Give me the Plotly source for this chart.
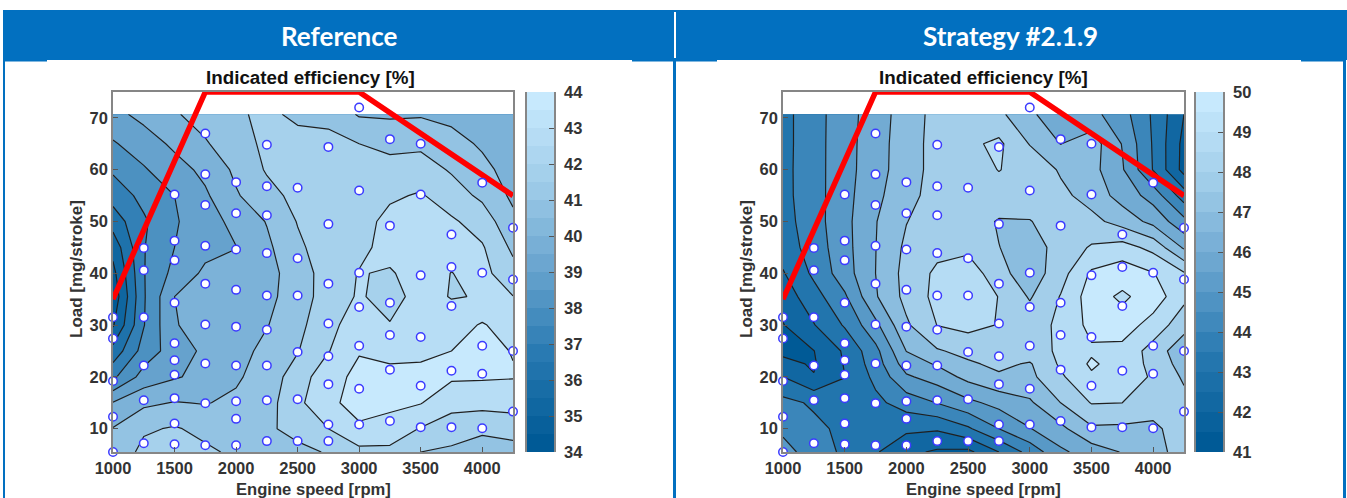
import numpy as np
import plotly.graph_objects as go

W, H = 1347, 498

speed = [1000, 1250, 1500, 1750, 2000, 2250, 2500, 2750, 3000, 3250, 3500, 3750, 4000, 4250]
ref_load = [5.5, 10, 15, 20, 25, 30, 35.5, 40, 45, 50, 55, 60, 65, 70.7]
# Reference panel: one list per engine speed, bottom to top
ref_by_speed = [
    [40.2, 40.05, 39.05, 36.8, 35.35, 33.9, 33.3, 33.7, 34.35, 35.45, 36.4, 37.15, 37.9, 38.7],
    [41.3, 40.85, 39.8, 38.4, 37.4, 36.95, 36.9, 36.95, 36.95, 36.85, 37.3, 37.9, 38.5, 39.3],
    [41.7, 41.1, 40.05, 38.9, 38.5, 38.95, 39.0, 38.3, 38.0, 37.9, 38.0, 38.6, 39.2, 39.9],
    [41.2, 40.7, 39.95, 39.3, 39.2, 39.3, 39.4, 39.2, 38.7, 38.55, 38.85, 39.25, 39.9, 40.4],
    [40.8, 40.6, 40.2, 39.85, 39.6, 39.5, 39.5, 39.3, 38.98, 39.3, 39.9, 40.2, 40.6, 40.9],
    [40.7, 40.75, 40.6, 40.5, 40.3, 39.95, 39.75, 39.65, 39.8, 40.05, 40.65, 41.1, 41.2, 41.15],
    [40.6, 41.5, 41.75, 41.45, 40.95, 40.7, 40.47, 40.5, 40.8, 41.05, 41.3, 41.45, 41.25, 40.85],
    [41.12, 42.0, 42.85, 42.7, 41.95, 41.75, 41.5, 41.45, 41.55, 41.7, 41.7, 41.65, 41.3, 40.7],
    [41.7, 42.9, 43.25, 43.2, 42.95, 42.45, 42.1, 42.05, 41.75, 41.6, 41.5, 41.25, 41.0, 39.9],
    [41.8, 42.5, 43.3, 43.15, 42.85, 42.05, 41.65, 41.9, 42.35, 42.3, 41.85, 41.35, 40.75, 39.85],
    [41.0, 41.95, 43.05, 43.2, 42.85, 42.5, 42.35, 42.45, 42.55, 42.4, 42.1, 41.45, 40.8, 39.9],
    [40.8, 41.55, 42.3, 43.15, 43.0, 42.5, 41.95, 41.98, 42.3, 42.15, 41.45, 40.9, 40.4, 39.7],
    [40.5, 41.2, 42.35, 43.1, 43.2, 43.1, 42.05, 42.3, 42.1, 41.55, 40.8, 40.3, 39.85, 39.4],
    [40.6, 41.4, 42.4, 43.05, 42.97, 42.45, 42.02, 41.35, 40.8, 40.25, 39.8, 39.55, 39.4, 39.25],
]

strat_load = [5.5, 10, 15, 20, 22.5, 25, 30, 35.5, 40, 45, 50, 55, 60, 65, 70.7]
# Strategy panel: one list per load, left to right
strat_5 = [44.35, 43.55, 42.8, 42.1, 41.25, 40.85, 40.75, 42.0, 43.35, 44.8, 45.5, 46.05, 46.65, 47.4]
strat_10 = [43.8, 43.25, 42.75, 42.4, 42.2, 42.12, 42.85, 44.0, 44.95, 45.75, 46.85, 46.8, 46.75, 47.6]
strat_15 = [43.3, 42.85, 42.5, 42.75, 43.45, 44.03, 44.75, 45.33, 45.85, 47.0, 48.05, 48.0, 47.55, 47.3]
strat_20 = [42.0, 41.05, 41.98, 43.25, 44.85, 45.45, 46.3, 46.85, 46.75, 47.85, 48.85, 48.45, 47.9, 46.85]
strat_22 = [41.25, 40.9, 42.07, 43.5, 45.5, 46.1, 46.85, 47.22, 46.9, 48.15, 49.15, 48.55, 47.75, 46.55]
strat_25 = [40.8, 40.98, 42.15, 43.7, 46.02, 46.9, 47.3, 47.7, 47.6, 48.15, 48.85, 48.7, 47.6, 46.3]
strat_30 = [40.95, 41.95, 43.1, 44.75, 46.85, 48.02, 48.3, 47.95, 47.55, 48.2, 49.3, 49.5, 48.6, 47.4]
strat_35 = [41.45, 42.6, 43.85, 45.9, 47.3, 48.3, 48.7, 47.97, 46.9, 48.05, 49.5, 48.8, 49.55, 48.25]
strat_40 = [41.92, 43.2, 44.55, 46.0, 47.35, 48.2, 48.6, 47.35, 46.4, 47.6, 49.15, 49.55, 49.05, 48.1]
strat_45 = [42.45, 43.45, 44.65, 45.98, 47.2, 47.7, 47.75, 47.02, 46.5, 47.4, 48.1, 48.4, 47.7, 45.85]
strat_50 = [42.6, 43.58, 44.7, 45.95, 46.97, 47.55, 47.6, 46.9, 46.95, 47.55, 47.3, 46.6, 45.7, 44.3]
strat_55 = [42.7, 43.6, 44.65, 45.78, 46.6, 47.5, 47.7, 47.75, 47.6, 47.25, 46.6, 45.6, 44.6, 42.5]
strat_60 = [42.7, 43.62, 44.61, 45.63, 46.5, 47.4, 47.7, 48.02, 47.75, 46.88, 46.35, 45.1, 42.95, 40.65]
strat_65 = [42.68, 43.62, 44.6, 45.6, 46.5, 47.4, 47.8, 48.2, 46.95, 45.98, 46.5, 44.95, 42.9, 40.7]
strat_70 = [42.68, 43.62, 44.57, 45.53, 46.46, 47.35, 47.55, 47.25, 46.1, 45.65, 45.3, 44.4, 42.85, 41.0]
strat_rows = [strat_5, strat_10, strat_15, strat_20, strat_22, strat_25, strat_30, strat_35,
              strat_40, strat_45, strat_50, strat_55, strat_60, strat_65, strat_70]

# Measured operating points
point_speed = [1000]*5 + [1250]*6 + [1500]*10 + [1750]*9 + [2000]*9 + [2250]*9 + [2500]*6 + [2750]*8 + [3000]*7 + [3250]*6 + [3500]*6 + [3750]*5 + [4000]*5 + [4250]*4
point_load = [31.5, 27.4, 19.2, 12.3, 5.5,
              44.9, 40.6, 31.5, 22.2, 15.5, 7.2,
              55.2, 46.3, 42.5, 34.3, 26.5, 23.2, 20.4, 15.9, 11.0, 7.0,
              67.0, 59.1, 53.2, 45.3, 38.0, 30.1, 22.6, 14.9, 6.8,
              57.6, 51.6, 44.6, 36.8, 29.7, 22.2, 15.3, 11.9, 6.8,
              64.8, 56.8, 51.2, 43.9, 35.7, 29.1, 22.2, 15.5, 7.6,
              56.5, 42.9, 35.7, 24.8, 15.7, 7.6,
              64.4, 49.5, 38.0, 30.3, 24.0, 18.6, 10.8, 7.6,
              72.0, 56.0, 40.1, 33.5, 26.0, 17.7, 10.8,
              65.9, 49.2, 34.3, 28.1, 21.4, 11.5,
              65.0, 55.2, 39.6, 27.7, 18.3, 10.3,
              47.5, 41.2, 33.7, 21.2, 10.3,
              57.5, 40.1, 26.0, 20.6, 10.1,
              48.8, 38.8, 25.0, 13.3]

# Full-load limit line
limit_speed = [1000, 1750, 3000, 4250]
limit_load = [35, 75, 75, 55]

ref_ticks = [34, 35, 36, 37, 38, 39, 40, 41, 42, 43, 44]
strat_ticks = [41, 42, 43, 44, 45, 46, 47, 48, 49, 50]
speed_ticks = [1000, 1500, 2000, 2500, 3000, 3500, 4000]
load_ticks = [10, 20, 30, 40, 50, 60, 70]

ANCHORS = [(0.0, (0, 90, 150)), (0.25, (38, 120, 176)), (0.5, (102, 162, 205)),
           (0.75, (158, 203, 232)), (1.0, (199, 233, 253))]


def ramp(t):
    for (a, ca), (b, cb) in zip(ANCHORS, ANCHORS[1:]):
        if t <= b:
            f = (t - a) / (b - a)
            return "rgb(%d,%d,%d)" % tuple(round(p + f * (q - p)) for p, q in zip(ca, cb))
    return "rgb(199,233,253)"


def band_scale(n):
    return [[i / (n - 1), ramp(i / (n - 1))] for i in range(n)]


def px_x(a, b):
    return [a / W, b / W]


def px_y(a, b):
    return [1 - b / H, 1 - a / H]


fig = go.Figure()
TICK = dict(family="Liberation Sans", size=16.5, color="#333333", weight="bold")
AXLINE = dict(showline=True, linecolor="#868686", linewidth=1.5, mirror=True,
              ticks="inside", ticklen=5, tickwidth=1, tickcolor="#555555",
              showgrid=False, zeroline=False, tickfont=TICK)

panels = [
    dict(z=np.array(ref_by_speed).T.tolist(), load=ref_load, start=34, end=43, ticks=ref_ticks,
         x0=113, x1=513, cb0=527, cb1=554, n="", cbn="2", titlex=310, xtitle=313, ytitle=76),
    dict(z=strat_rows, load=strat_load, start=41, end=49, ticks=strat_ticks,
         x0=783, x1=1184, cb0=1196, cb1=1223, n="3", cbn="4", titlex=983, xtitle=983, ytitle=746),
]

ann = []
layout = {}
for p in panels:
    xa, ya = "x" + p["n"], "y" + p["n"]
    nb = p["end"] - p["start"] + 2
    fig.add_trace(go.Contour(
        x=speed, y=p["load"], z=p["z"], xaxis=xa, yaxis=ya, showscale=False,
        autocontour=False, contours=dict(start=p["start"], end=p["end"], size=1, coloring="fill"),
        colorscale=band_scale(nb), line=dict(color="#202020", width=1.2, smoothing=0),
        hoverinfo="skip"))
    fig.add_trace(go.Scatter(
        x=limit_speed, y=limit_load, xaxis=xa, yaxis=ya, mode="lines",
        line=dict(color="#ff0000", width=5.5), cliponaxis=False, showlegend=False))
    fig.add_trace(go.Scatter(
        x=point_speed, y=point_load, xaxis=xa, yaxis=ya, mode="markers", cliponaxis=False,
        marker=dict(size=8.5, color="white", line=dict(color="#3b3bff", width=1.5)), showlegend=False))

    lo, hi = p["ticks"][0], p["ticks"][-1]
    levels = [lo + 0.25 + 0.5 * i for i in range(2 * (hi - lo))]
    fig.add_trace(go.Heatmap(
        x=[0], y=levels, z=[[i / (len(levels) - 1)] for i in range(len(levels))],
        zmin=0, zmax=1, xaxis="x" + p["cbn"], yaxis="y" + p["cbn"], showscale=False,
        colorscale=[[a, "rgb(%d,%d,%d)" % c] for a, c in ANCHORS], hoverinfo="skip"))

    key = lambda s: s[0] + "axis" + s[1:]
    layout[key(xa)] = dict(domain=px_x(p["x0"], p["x1"]), range=[1000, 4250], anchor=ya,
                           tickvals=speed_ticks, **AXLINE)
    layout[key(ya)] = dict(domain=px_y(92, 452), range=[5.5, 75], anchor=xa,
                           tickvals=load_ticks, **AXLINE)
    cx, cy = "x" + p["cbn"], "y" + p["cbn"]
    layout[key(cx)] = dict(domain=px_x(p["cb0"], p["cb1"]), anchor=cy, visible=False, range=[-0.5, 0.5])
    layout[key(cy)] = dict(domain=px_y(92, 452), range=[lo, hi], anchor=cx, side="right",
                           tickvals=p["ticks"], ticklabelstandoff=5, **AXLINE)

    ann.append(dict(x=p["titlex"] / W, y=1 - 77 / H, xref="paper", yref="paper", showarrow=False,
                    text="Indicated efficiency [%]", xanchor="center", yanchor="middle",
                    font=dict(family="Liberation Sans", size=18.8, color="#111111", weight="bold")))
    ann.append(dict(x=p["xtitle"] / W, y=1 - 489 / H, xref="paper", yref="paper", showarrow=False,
                    text="Engine speed [rpm]", xanchor="center", yanchor="middle",
                    font=dict(family="Liberation Sans", size=16.6, color="#333333", weight="bold")))
    ann.append(dict(x=p["ytitle"] / W, y=1 - 269 / H, xref="paper", yref="paper", showarrow=False,
                    text="Load [mg/stroke]", textangle=-90, xanchor="center", yanchor="middle",
                    font=dict(family="Liberation Sans", size=17, color="#333333", weight="bold")))

for text, cx in (("Reference", 339), ("Strategy #2.1.9", 1010)):
    ann.append(dict(x=cx / W, y=1 - 36 / H, xref="paper", yref="paper", showarrow=False, text=text,
                    xanchor="center", yanchor="middle",
                    font=dict(family="Lato", size=26, color="white", weight="bold")))

BLUE = "#0270c0"


def rect(a, b, c, d, color):
    return dict(type="rect", xref="paper", yref="paper", x0=a / W, x1=b / W, y0=1 - d / H, y1=1 - c / H,
                fillcolor=color, line=dict(width=0), layer="below")


shapes = [rect(3, 1347, 10, 60, BLUE), rect(3, 5, 60, 498, BLUE), rect(673, 676, 60, 498, BLUE),
          rect(1343, 1346, 60, 498, BLUE), rect(674, 676, 12, 58, "white"),
          rect(3, 47, 60, 61.5, BLUE), rect(632, 676, 60, 61.5, BLUE),
          rect(676, 717, 60, 61.5, BLUE), rect(1301, 1346, 60, 61.5, BLUE)]

fig.update_layout(width=W, height=H, margin=dict(l=0, r=0, t=0, b=0, autoexpand=False), autosize=False,
                  paper_bgcolor="white", plot_bgcolor="white", showlegend=False,
                  annotations=ann, shapes=shapes, **layout)
fig.write_html("out.html", config={"displayModeBar": False},
               post_script="document.body.style.margin='0';document.body.style.overflow='hidden';")
